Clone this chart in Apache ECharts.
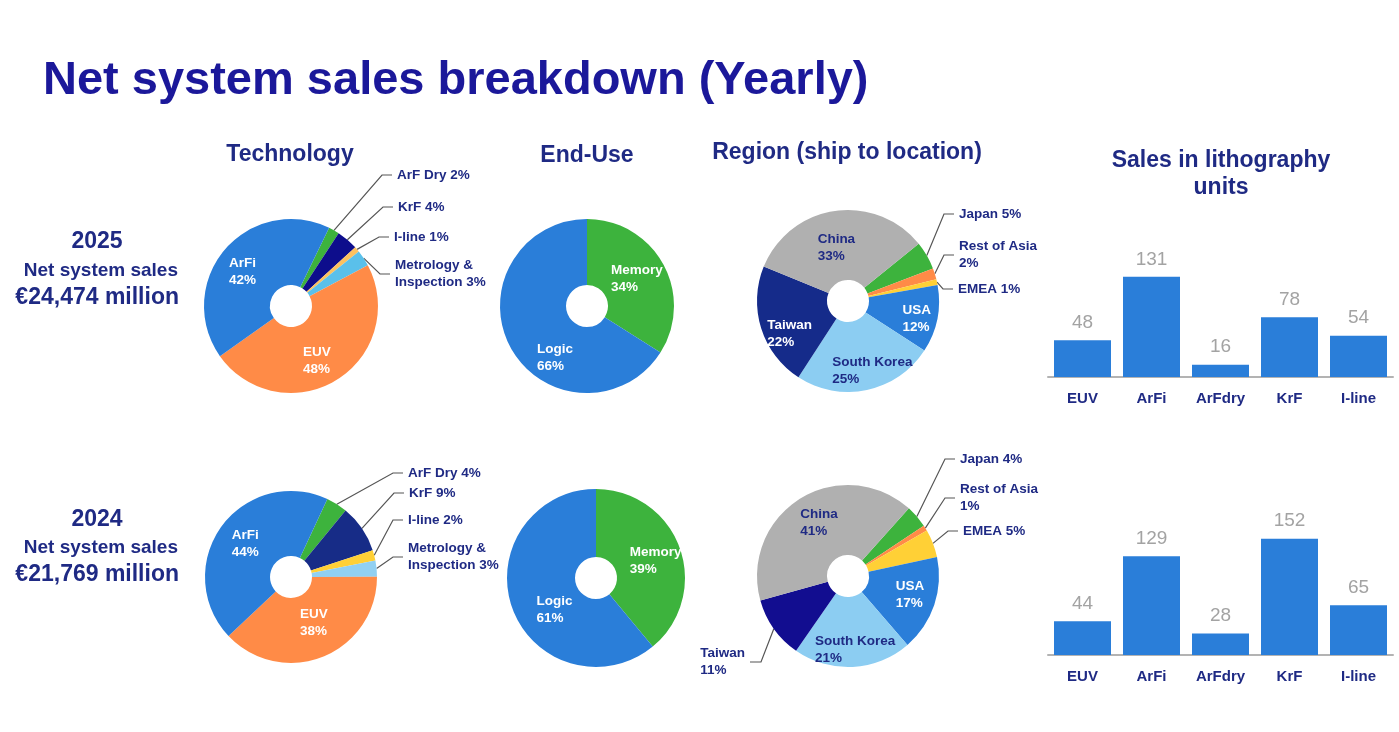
<!DOCTYPE html>
<html>
<head>
<meta charset="utf-8">
<title>Net system sales breakdown (Yearly)</title>
<script src="https://cdn.jsdelivr.net/npm/echarts@6/dist/echarts.min.js"></script>
<style>
    html, body { margin: 0; padding: 0; background: #fff; }
    #chart { width: 1399px; height: 732px; }
</style>
</head>
<body>
<div id="chart"></div>
<script>
// 数据
var techNames = ['ArF Dry', 'KrF', 'I-line', 'Metrology &\nInspection', 'EUV', 'ArFi'];
var tech2025 = [2, 4, 1, 3, 48, 42];
var tech2024 = [4, 9, 2, 3, 38, 44];

var endUseNames = ['Memory', 'Logic'];
var endUse2025 = [34, 66];
var endUse2024 = [39, 61];

var regionNames = ['Japan', 'Rest of Asia', 'EMEA', 'USA', 'South Korea', 'Taiwan', 'China'];
var region2025 = [5, 2, 1, 12, 25, 22, 33];
var region2024 = [4, 1, 5, 17, 21, 11, 41];

var unitCats = ['EUV', 'ArFi', 'ArFdry', 'KrF', 'I-line'];
var units2025 = [48, 131, 16, 78, 54];
var units2024 = [44, 129, 28, 152, 65];

// 颜色
var NAVY = '#1f2a84';
var FONT = '"Liberation Sans", Arial, sans-serif';
var techColors2025 = ['#3db33d', '#0d0d8c', '#fcc15f', '#5ac0ea', '#ff8b47', '#2a7ed9'];
var techColors2024 = ['#3db33d', '#172c87', '#ffd036', '#91d0f2', '#ff8b47', '#2a7ed9'];
var endUseColors = ['#3db33d', '#2a7ed9'];
var regionColors2025 = ['#3db33d', '#ff8b47', '#ffd036', '#2a7ed9', '#8ccdf2', '#152b8a', '#b0b0b0'];
var regionColors2024 = ['#3db33d', '#ff8b47', '#ffd036', '#2a7ed9', '#8ccdf2', '#120d90', '#b0b0b0'];

var breakNames = ['Rest of Asia', 'Taiwan'];
var navyInside = ['China', 'South Korea'];

// 饼图系列
function buildPie(names, values, colors, cfg) {
    return {
        type: 'pie',
        center: cfg.center,
        radius: [21, cfg.r],
        startAngle: cfg.startAngle,
        clockwise: true,
        avoidLabelOverlap: false,
        silent: true,
        data: values.map(function (v, i) {
            var out = cfg.outside[i];
            return {
                name: names[i],
                value: v,
                itemStyle: {color: colors[i]},
                label: {position: out ? 'outside' : 'inside'},
                labelLine: {show: !!out}
            };
        }),
        label: {
            show: true,
            formatter: function (p) {
                var out = cfg.outside[p.dataIndex];
                var sep = (!out || breakNames.indexOf(p.name) >= 0) ? '\n' : ' ';
                var style = (out || navyInside.indexOf(p.name) >= 0) ? 'n' : 'w';
                return '{' + style + '|' + p.name + sep + p.value + '%}';
            },
            rich: {
                n: {color: NAVY, fontFamily: FONT, fontWeight: 'bold', fontSize: 13.5, lineHeight: 17, align: 'left'},
                w: {color: '#fff', fontFamily: FONT, fontWeight: 'bold', fontSize: 13.5, lineHeight: 17, align: 'left'}
            }
        },
        labelLine: {lineStyle: {color: '#555', width: 1.2}},
        labelLayout: function (p) {
            var i = p.dataIndex;
            var out = cfg.outside[i];
            if (out) {
                var x = cfg.center[0] + out[0];
                var y = cfg.center[1] + out[1];
                var right = out[0] > 0;
                var s = p.labelLinePoints[0];
                return {
                    x: x, y: y,
                    align: right ? 'left' : 'right',
                    verticalAlign: 'middle',
                    labelLinePoints: [[s[0], s[1]], [right ? x - 15 : x + 16, y], [right ? x - 5 : x + 5, y]]
                };
            }
            var off = cfg.inOffset[i] || [0, 0];
            return {dx: off[0], dy: off[1]};
        }
    };
}

var chart = echarts.init(document.getElementById('chart'));

function txt(text, x, y, size, align, color) {
    return {
        type: 'text', x: x, y: y, silent: true,
        style: {
            text: text, fill: color || NAVY, align: align, verticalAlign: 'middle',
            fontFamily: FONT, fontWeight: 'bold', fontSize: size, lineHeight: size + 4
        }
    };
}

var barLabel = {show: true, position: 'top', distance: 8, color: '#a3a3a3', fontSize: 19, fontFamily: FONT};
var catAxis = function (gi) {
    return {
        type: 'category', gridIndex: gi, data: unitCats,
        axisLine: {lineStyle: {color: '#b3b3b3', width: 2}},
        axisTick: {show: false},
        axisLabel: {color: NAVY, fontWeight: 'bold', fontSize: 15, fontFamily: FONT, margin: 14}
    };
};
var valAxis = function (gi) {
    return {type: 'value', gridIndex: gi, min: 0, max: 200, show: false, splitLine: {show: false}};
};

var option = {
    animation: false,
    graphic: [
        txt('Net system sales breakdown (Yearly)', 43, 81, 47, 'left', '#1b189a'),
        txt('Technology', 290, 155, 23, 'center'),
        txt('End-Use', 587, 156, 23, 'center'),
        txt('Region (ship to location)', 847, 153, 23, 'center'),
        txt('Sales in lithography', 1221, 161, 23, 'center'),
        txt('units', 1221, 188, 23, 'center'),
        txt('2025', 97, 242, 23, 'center'),
        txt('Net system sales', 178, 271, 19, 'right'),
        txt('€24,474 million', 179, 298, 23, 'right'),
        txt('2024', 97, 520, 23, 'center'),
        txt('Net system sales', 178, 548, 19, 'right'),
        txt('€21,769 million', 179, 575, 23, 'right')
    ],
    grid: [
        {left: 1048, width: 345, top: 224, height: 153},
        {left: 1048, width: 345, top: 502, height: 153}
    ],
    xAxis: [catAxis(0), catAxis(1)],
    yAxis: [valAxis(0), valAxis(1)],
    series: [
        buildPie(techNames, tech2025, techColors2025, {
            center: [291, 306], r: 87, startAngle: 64,
            outside: {0: [106, -131], 1: [107, -99], 2: [103, -69], 3: [104, -32]},
            inOffset: {4: [-4, 6], 5: [-5, 3]}
        }),
        buildPie(techNames, tech2024, techColors2024, {
            center: [291, 577], r: 86, startAngle: 65,
            outside: {0: [117, -104], 1: [118, -84], 2: [117, -57], 3: [117, -20]},
            inOffset: {4: [2, -7]}
        }),
        buildPie(endUseNames, endUse2025, endUseColors, {
            center: [587, 306], r: 87, startAngle: 90,
            outside: {},
            inOffset: {1: [18, 24]}
        }),
        buildPie(endUseNames, endUse2024, endUseColors, {
            center: [596, 578], r: 89, startAngle: 90,
            outside: {},
            inOffset: {0: [5, 2], 1: [13, 12]}
        }),
        buildPie(regionNames, region2025, regionColors2025, {
            center: [848, 301], r: 91, startAngle: 39,
            outside: {0: [111, -87], 1: [111, -46], 2: [110, -12]},
            inOffset: {3: [11, 6], 4: [12, 12], 5: [-2, 15], 6: [-3, 5]}
        }),
        buildPie(regionNames, region2024, regionColors2024, {
            center: [848, 576], r: 91, startAngle: 48,
            outside: {0: [112, -117], 1: [112, -78], 2: [115, -45], 5: [-103, 86]},
            inOffset: {3: [6, 0], 4: [4, 15], 6: [2, -3]}
        }),
        {
            type: 'bar', xAxisIndex: 0, yAxisIndex: 0, data: units2025,
            barWidth: 57, itemStyle: {color: '#2a7ed9'}, label: barLabel, silent: true
        },
        {
            type: 'bar', xAxisIndex: 1, yAxisIndex: 1, data: units2024,
            barWidth: 57, itemStyle: {color: '#2a7ed9'}, label: barLabel, silent: true
        }
    ]
};

chart.setOption(option);
</script>
</body>
</html>
